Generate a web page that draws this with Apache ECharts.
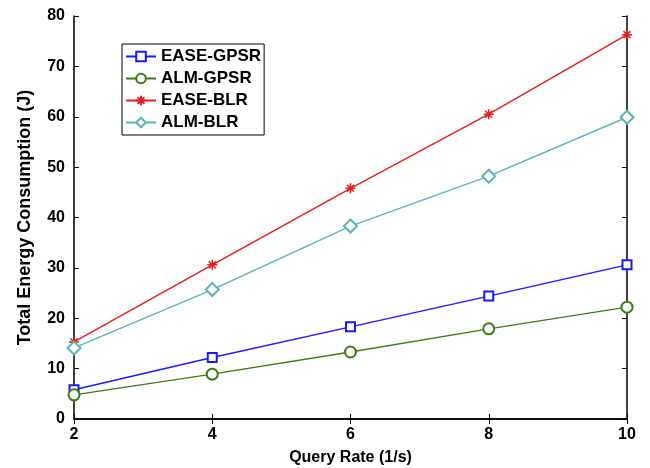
<!DOCTYPE html>
<html><head><meta charset="utf-8">
<script src="https://cdn.jsdelivr.net/npm/echarts@6/dist/echarts.min.js"></script>
<style>html,body{margin:0;padding:0;background:#fff}#c{width:650px;height:468px}</style>
</head><body><div id="c"></div>
<script>
const queryRates = [2, 4, 6, 8, 10];
const easeGpsr = [5.8, 12.2, 18.3, 24.4, 30.6];
const almGpsr = [4.8, 8.9, 13.3, 17.9, 22.2];
const easeBlr = [15.3, 30.6, 45.8, 60.5, 76.3];
const almBlr = [14.1, 25.7, 38.3, 48.2, 59.9];
const seriesNames = ['EASE-GPSR', 'ALM-GPSR', 'EASE-BLR', 'ALM-BLR'];

const font = 'Liberation Sans, Arial, sans-serif';
const chart = echarts.init(document.getElementById('c'));
const pairs = a => queryRates.map((x, i) => [x, a[i]]);
const star = 'path://M0,-10L0,10M-10,0L10,0M-7,-7L7,7M-7,7L7,-7';
function mk(name, data, color, symbol, size) {
  const isStar = symbol === star;
  return {
    name, type: 'line', data: pairs(data), symbol, symbolSize: size,
    lineStyle: { color, width: 1.4 },
    itemStyle: isStar ? { color: 'none', borderColor: color, borderWidth: 1.5 } : { color, borderColor: color, borderWidth: 1.3 },
    emphasis: { disabled: true }, animation: false
  };
}
const axisLabelStyle = { fontFamily: font, fontWeight: 'bold', fontSize: 16, color: '#000' };
chart.setOption({
  animation: false,
  grid: { left: 74, right: 23, top: 16, bottom: 49, containLabel: false, outerBoundsMode: 'none' },
  legend: {
    orient: 'vertical', left: 122, top: 44, data: seriesNames,
    borderColor: '#000', borderWidth: 1, padding: [4, 3, 4, 3],
    itemWidth: 30, itemHeight: 12, itemGap: 5,
    textStyle: { fontFamily: font, fontWeight: 'bold', fontSize: 17, color: '#000' },
    backgroundColor: '#fff'
  },
  xAxis: [{
    type: 'value', min: 2, max: 10, interval: 2, position: 'bottom',
    name: 'Query Rate (1/s)', nameLocation: 'middle', nameGap: 31,
    nameTextStyle: { fontFamily: font, fontWeight: 'bold', fontSize: 16, color: '#000' },
    axisLine: { lineStyle: { color: '#000', width: 1.5 } },
    axisTick: { inside: true, length: 5, lineStyle: { color: '#000' } },
    axisLabel: Object.assign({ margin: 8 }, axisLabelStyle),
    splitLine: { show: false }
  }, {
    type: 'value', min: 2, max: 10, interval: 2, position: 'top',
    axisLine: { lineStyle: { color: '#000', width: 1.5 } },
    axisTick: { inside: true, length: 5, lineStyle: { color: '#000' } },
    axisLabel: { show: false }, splitLine: { show: false }
  }],
  yAxis: [{
    type: 'value', min: 0, max: 80, interval: 10, position: 'left',
    name: 'Total Energy Consumption (J)', nameLocation: 'middle', nameGap: 40,
    nameTextStyle: { fontFamily: font, fontWeight: 'bold', fontSize: 18, color: '#000' },
    axisLine: { show: true, lineStyle: { color: '#000', width: 1.5 } },
    axisTick: { show: true, inside: true, length: 5, lineStyle: { color: '#000' } },
    axisLabel: Object.assign({ margin: 9 }, axisLabelStyle),
    splitLine: { show: false }
  }, {
    type: 'value', min: 0, max: 80, interval: 10, position: 'right',
    axisLine: { show: true, lineStyle: { color: '#000', width: 1.5 } },
    axisTick: { show: true, inside: true, length: 5, lineStyle: { color: '#000' } },
    axisLabel: { show: false }, splitLine: { show: false }
  }],
  series: [
    mk(seriesNames[0], easeGpsr, '#1a1aff', 'emptyRect', 9),
    mk(seriesNames[1], almGpsr, '#3f7a1a', 'emptyCircle', 11),
    mk(seriesNames[2], easeBlr, '#dd2222', star, 10),
    mk(seriesNames[3], almBlr, '#5cb3b3', 'emptyDiamond', 13)
  ]
});
</script></body></html>
